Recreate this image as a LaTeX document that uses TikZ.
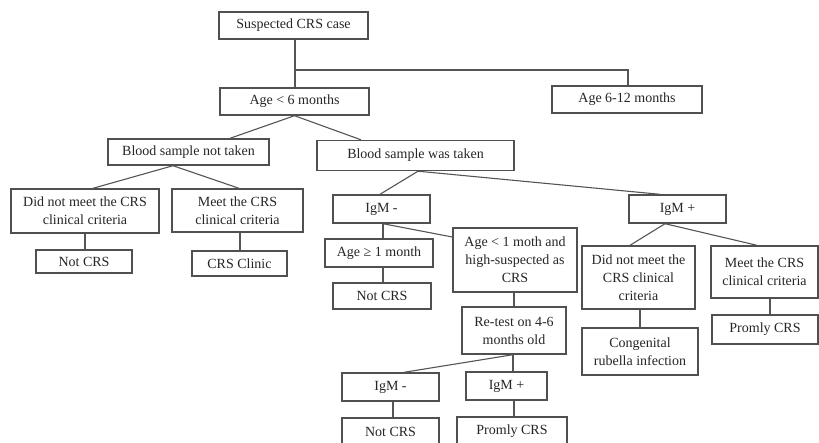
\documentclass[tikz,border=0pt]{standalone}
\usepackage{fontspec}
\setmainfont{Liberation Serif}
\definecolor{boxc}{HTML}{505050}
\definecolor{linec}{HTML}{555555}
\definecolor{txtc}{HTML}{262626}
\begin{document}
\begin{tikzpicture}[x=1pt,y=-1pt,
  box/.style={draw=boxc, line width=1.4pt, inner sep=0pt, align=center, text=txtc,
    font=\fontsize{14}{18}\selectfont},
  conn/.style={draw=linec, line width=1.1pt}]
\clip (0,0) rectangle (819,442);
\fill[white] (0,0) rectangle (819,442);
% nodes
\node[box, minimum width=149pt, minimum height=27pt] (susp) at (293.5,25.5) {Suspected CRS case};
\node[box, minimum width=149pt, minimum height=27pt] (age6) at (294.5,101.5) {Age < 6 months};
\node[box, minimum width=150pt, minimum height=27pt] (age612) at (627,99.5) {Age 6-12 months};
\node[box, minimum width=161pt, minimum height=26pt] (bnot) at (188.5,152) {Blood sample not taken};
\node[box, minimum width=197pt, minimum height=30pt] (bwas) at (415.5,155.5) {Blood sample was taken};
\node[box, minimum width=148pt, minimum height=44pt] (dnm1) at (85,211) {Did not meet the CRS\\clinical criteria};
\node[box, minimum width=131pt, minimum height=43pt] (meet1) at (237.5,210.5) {Meet the CRS\\clinical criteria};
\node[box, minimum width=96pt, minimum height=23pt] (notcrs1) at (84,261.5) {Not CRS};
\node[box, minimum width=95pt, minimum height=25pt] (clinic) at (239.5,263.5) {CRS Clinic};
\node[box, minimum width=97pt, minimum height=28pt] (igmn) at (381.5,209) {IgM -};
\node[box, minimum width=108pt, minimum height=28pt] (agege1) at (379,253) {Age ≥ 1 month};
\node[box, minimum width=98pt, minimum height=26pt] (notcrs2) at (382,296) {Not CRS};
\node[box, minimum width=124pt, minimum height=64pt] (agelt1) at (515,260) {Age < 1 moth and\\high-suspected as\\CRS};
\node[box, minimum width=104pt, minimum height=47pt] (retest) at (514,330.5) {Re-test on 4-6\\months old};
\node[box, minimum width=97pt, minimum height=28pt] (igmn2) at (390.5,387) {IgM -};
\node[box, minimum width=81pt, minimum height=28pt] (igmp2) at (506.5,386) {IgM +};
\node[box, minimum width=97pt, minimum height=28pt] (notcrs3) at (390.5,432) {Not CRS};
\node[box, minimum width=110pt, minimum height=28pt] (promly2) at (512,431) {Promly CRS};
\node[box, minimum width=97pt, minimum height=28pt] (igmp) at (677.5,209) {IgM +};
\node[box, minimum width=113pt, minimum height=63pt] (dnm2) at (638.5,277.5) {Did not meet the\\CRS clinical\\criteria};
\node[box, minimum width=116pt, minimum height=47pt] (cong) at (640,351.5) {Congenital\\rubella infection};
\node[box, minimum width=107pt, minimum height=52pt] (meet2) at (764.5,272) {Meet the CRS\\clinical criteria};
\node[box, minimum width=106pt, minimum height=29pt] (promly1) at (765,329.5) {Promly CRS};
% connectors
\coordinate (j1) at (295,70);
\draw[conn] (j1 |- susp.south) -- (j1 |- age6.north);
\draw[conn] (j1) -| ([xshift=1pt]age612.north);
\draw[conn] (age6.south) -- ([xshift=41.5pt]bnot.north);
\draw[conn] (age6.south) -- ([xshift=-54.5pt]bwas.north);
\draw[conn] ([xshift=-15.5pt]bnot.south) -- ([xshift=8pt]dnm1.north);
\draw[conn] ([xshift=-15.5pt]bnot.south) -- ([xshift=1.5pt]meet1.north);
\draw[conn] (dnm1.south) -- (dnm1.south |- notcrs1.north);
\draw[conn] ([xshift=2.5pt]meet1.south) -- ([xshift=2.5pt]meet1.south |- clinic.north);
\draw[conn] ([xshift=2.5pt]bwas.south) -- ([xshift=-1.5pt]igmn.north);
\draw[conn] ([xshift=2.5pt]bwas.south) -- ([xshift=-17.5pt]igmp.north);
\draw[conn] ([xshift=1.5pt]igmn.south) -- ([xshift=1.5pt]igmn.south |- agege1.north);
\draw[conn] ([xshift=1.5pt]igmn.south) -- ([yshift=23pt]agelt1.west);
\draw[conn] ([xshift=1.5pt]igmn.south |- agege1.south) -- ([xshift=1.5pt]igmn.south |- notcrs2.north);
\draw[conn] ([xshift=-1pt]agelt1.south) -- ([xshift=-1pt]agelt1.south |- retest.north);
\draw[conn] ([xshift=-1pt]retest.south) -- ([xshift=13.5pt]igmn2.north);
\draw[conn] ([xshift=-1pt]retest.south) -- ([xshift=-1pt]retest.south |- igmp2.north);
\draw[conn] ([xshift=2.5pt]igmn2.south) -- ([xshift=2.5pt]igmn2.south |- notcrs3.north);
\draw[conn] ([xshift=7.5pt]igmp2.south) -- ([xshift=7.5pt]igmp2.south |- promly2.north);
\draw[conn] ([xshift=-12.5pt]igmp.south) -- ([xshift=-8.5pt]dnm2.north);
\draw[conn] ([xshift=-12.5pt]igmp.south) -- ([xshift=-7.5pt]meet2.north);
\draw[conn] ([xshift=1.5pt]dnm2.south) -- ([xshift=1.5pt]dnm2.south |- cong.north);
\draw[conn] ([xshift=5.5pt]meet2.south) -- ([xshift=5.5pt]meet2.south |- promly1.north);
\end{tikzpicture}
\end{document}
